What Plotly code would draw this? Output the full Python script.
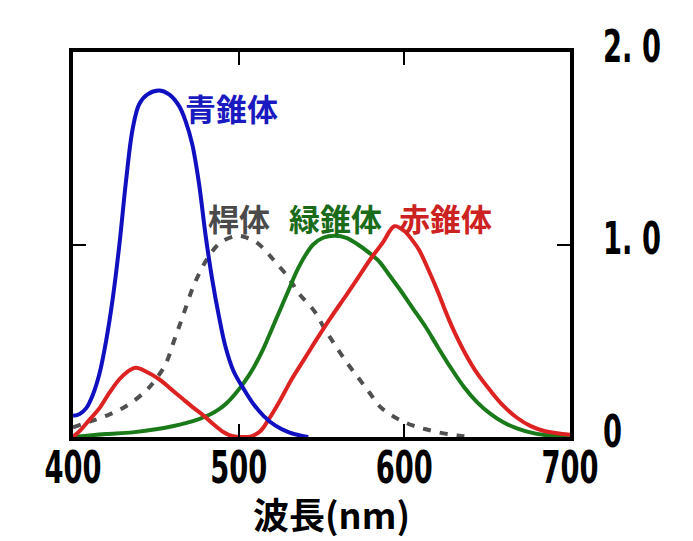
import plotly.graph_objects as go

# Blue cone (青錐体)
blue_wl = [400, 404, 408, 412, 416, 420, 424, 428, 432, 436, 440, 445, 452, 458, 464, 468, 472, 476, 480, 484, 488, 492, 497, 503, 509, 515, 522, 530, 537, 542]
blue_val = [0.11, 0.12, 0.15, 0.22, 0.33, 0.50, 0.72, 1.00, 1.33, 1.60, 1.73, 1.78, 1.80, 1.78, 1.72, 1.64, 1.52, 1.32, 1.05, 0.82, 0.63, 0.47, 0.34, 0.25, 0.17, 0.11, 0.06, 0.025, 0.008, 0.0]

# Red cone (赤錐体)
red_wl = [400, 405, 410, 416, 422, 428, 433, 438, 444, 452, 459, 466, 473, 479, 485, 491, 496, 502, 508, 513, 518, 525, 532, 540, 548, 556, 566, 573, 580, 587, 594, 600, 605, 609, 615, 620, 625, 630, 637, 644, 652, 660, 668, 676, 685, 692, 700]
red_val = [0.0, 0.04, 0.09, 0.15, 0.23, 0.30, 0.34, 0.36, 0.34, 0.30, 0.25, 0.20, 0.15, 0.11, 0.065, 0.025, 0.005, 0.0, 0.005, 0.03, 0.09, 0.19, 0.30, 0.41, 0.52, 0.625, 0.75, 0.84, 0.93, 1.01, 1.095, 1.07, 1.02, 0.97, 0.86, 0.76, 0.65, 0.55, 0.43, 0.33, 0.24, 0.16, 0.10, 0.058, 0.03, 0.02, 0.012]

# Green cone (緑錐体)
green_wl = [400, 410, 420, 436, 450, 460, 468, 476, 483, 488, 493, 498, 503, 509, 515, 520, 525, 530, 535, 540, 545, 551, 558, 565, 572, 579, 585, 591, 597, 605, 613, 620, 628, 636, 644, 652, 660, 668, 676, 685, 692, 700]
green_val = [0.0, 0.008, 0.015, 0.024, 0.04, 0.056, 0.072, 0.093, 0.118, 0.143, 0.178, 0.225, 0.28, 0.36, 0.46, 0.56, 0.66, 0.76, 0.86, 0.94, 1.0, 1.035, 1.045, 1.035, 1.0, 0.955, 0.91, 0.84, 0.77, 0.67, 0.57, 0.47, 0.36, 0.26, 0.18, 0.12, 0.075, 0.045, 0.024, 0.01, 0.004, 0.0]

# Rod (桿体)
rod_wl = [400, 410, 420, 432, 444, 450, 456, 461, 466, 473, 481, 489, 499, 505, 511, 517, 522, 530, 536, 546, 552, 558, 565, 572, 579, 585, 591, 597, 605, 613, 623, 633, 640]
rod_val = [0.05, 0.08, 0.11, 0.16, 0.24, 0.30, 0.38, 0.50, 0.62, 0.79, 0.925, 1.01, 1.045, 1.035, 1.01, 0.96, 0.91, 0.83, 0.75, 0.65, 0.56, 0.48, 0.39, 0.31, 0.23, 0.16, 0.12, 0.09, 0.06, 0.04, 0.02, 0.007, 0.0]

x_ticks = [400, 500, 600, 700]
x_ticklabels = ["400", "500", "600", "700"]
y_ticks = [0, 1.0, 2.0]
y_ticklabels = ["0", "1. 0", "2. 0"]

labels = ["青錐体", "桿体", "緑錐体", "赤錐体"]
label_x = [495.5, 500.3, 558.5, 624.6]
label_y = [1.71, 1.14, 1.14, 1.14]
label_colors = ["#1a1ac0", "#4a4a4a", "#1a6b1a", "#cc2222"]

fig = go.Figure()
fig.add_trace(go.Scatter(x=rod_wl, y=rod_val, mode="lines",
                         line=dict(color="#505050", width=4, dash="8px,9px", shape="spline")))
fig.add_trace(go.Scatter(x=green_wl, y=green_val, mode="lines",
                         line=dict(color="#1a7a1a", width=4, shape="spline")))
fig.add_trace(go.Scatter(x=red_wl, y=red_val, mode="lines",
                         line=dict(color="#dd2222", width=4, shape="spline")))
fig.add_trace(go.Scatter(x=blue_wl, y=blue_val, mode="lines",
                         line=dict(color="#1010c0", width=4, shape="spline")))

for t, lx, ly, c in zip(labels, label_x, label_y, label_colors):
    fig.add_annotation(x=lx, y=ly, xref="x", yref="y", text=t, showarrow=False,
                       font=dict(family="Noto Sans CJK JP", size=31, color=c, weight="bold"))

fig.add_annotation(x=0.52, y=-0.197, xref="paper", yref="paper", text="波長(nm)",
                   showarrow=False, xanchor="center", yanchor="middle",
                   font=dict(family="Noto Sans CJK JP", size=36, color="black", weight="bold"))

tick_font = dict(family="DejaVu Sans Condensed, DejaVu Sans, sans-serif", size=45,
                 color="black", weight="bold")

fig.update_layout(
    width=693, height=541,
    margin=dict(l=65, r=115, t=33, b=112),
    paper_bgcolor="white", plot_bgcolor="white",
    showlegend=False,
    xaxis=dict(range=[400, 700], tickvals=x_ticks, ticktext=x_ticklabels,
               ticks="inside", ticklen=13, tickwidth=2, tickcolor="black",
               showline=True, linewidth=4, linecolor="black", mirror="allticks",
               showgrid=False, zeroline=False, tickfont=tick_font, ticklabelstandoff=-12),
    yaxis=dict(range=[0, 2.0], tickvals=y_ticks, ticktext=y_ticklabels, side="right",
               ticks="inside", ticklen=13, tickwidth=2, tickcolor="black",
               showline=True, linewidth=4, linecolor="black", mirror="allticks",
               showgrid=False, zeroline=False, tickfont=tick_font, ticklabelstandoff=20,
               ticklabelshift=-6),
)

# Narrow the tick labels horizontally (condensed digits like the reference)
squeeze_js = """
var gd = document.getElementById('{plot_id}');
function squeezeTicks(){
  var ref = gd.querySelector('.xtick text');
  if(!ref) return;
  var k = 57 / ref.getComputedTextLength();
  gd.querySelectorAll('.xtick text, .ytick text').forEach(function(t){
    var w = t.getComputedTextLength();
    t.setAttribute('lengthAdjust', 'spacingAndGlyphs');
    t.setAttribute('textLength', (w * k).toFixed(1));
  });
}
squeezeTicks();
"""

fig.write_html("out.html", post_script=squeeze_js)
